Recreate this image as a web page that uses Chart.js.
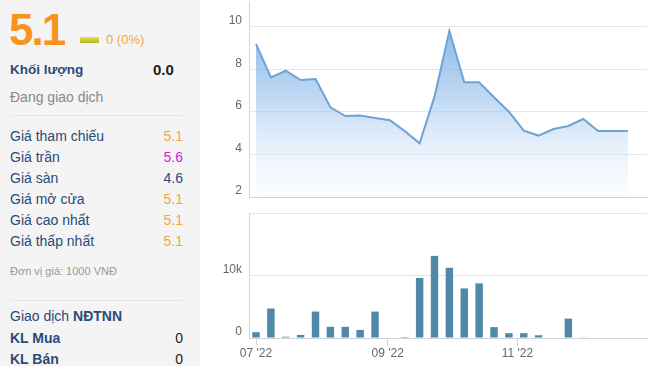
<!DOCTYPE html>
<html>
<head>
<meta charset="utf-8">
<script src="https://cdn.jsdelivr.net/npm/chart.js@4"></script>
<style>
  body { margin:0; width:651px; height:366px; overflow:hidden; background:#fff; font-family:"Liberation Sans", Arial, sans-serif; position:relative; }
  #panel { position:absolute; left:0; top:0; width:200px; height:366px; background:#f4f4f4; }
  .t { position:absolute; white-space:nowrap; line-height:20px; font-size:14px; }
  .lbl { left:10px; color:#2b4a78; }
  .val { right:17px; text-align:right; }
  .sep { position:absolute; left:10px; width:173px; height:1px; background:#e6e6e6; }
  #c1 { position:absolute; left:215px; top:0; }
  #c2 { position:absolute; left:215px; top:205px; }
</style>
</head>
<body>
<div id="panel">
  <div class="t" style="left:9px;top:8px;font-size:44px;line-height:44px;font-weight:bold;color:#f7941d;letter-spacing:-2px">5.1</div>
  <div style="position:absolute;left:80px;top:37px;width:19px;height:6px;background:linear-gradient(#e0e060,#b8b818)"></div>
  <div class="t" style="left:106px;top:30px;font-size:13px;color:#f5a543">0 (0%)</div>
  <div class="t lbl" style="top:60px;font-weight:bold;font-size:13.5px">Khối lượng</div>
  <div class="t" style="left:153px;top:60px;font-weight:bold;font-size:15px;color:#222">0.0</div>
  <div class="t" style="left:10px;top:87px;color:#888">Đang giao dịch</div>
  <div class="sep" style="top:115px"></div>

  <div class="t lbl" style="top:126px">Giá tham chiếu</div>
  <div class="t val" style="top:126px;color:#f5a543">5.1</div>
  <div class="t lbl" style="top:147px">Giá trần</div>
  <div class="t val" style="top:147px;color:#d61fd6">5.6</div>
  <div class="t lbl" style="top:168px">Giá sàn</div>
  <div class="t val" style="top:168px;color:#2b4a78">4.6</div>
  <div class="t lbl" style="top:189px">Giá mở cửa</div>
  <div class="t val" style="top:189px;color:#f5a543">5.1</div>
  <div class="t lbl" style="top:210px">Giá cao nhất</div>
  <div class="t val" style="top:210px;color:#f5a543">5.1</div>
  <div class="t lbl" style="top:231px">Giá thấp nhất</div>
  <div class="t val" style="top:231px;color:#f5a543">5.1</div>

  <div class="t" style="left:10px;top:261px;font-size:11px;color:#999">Đơn vị giá: 1000 VNĐ</div>
  <div class="sep" style="top:300px"></div>
  <div class="t lbl" style="top:306px">Giao dịch <b>NĐTNN</b></div>
  <div class="t lbl" style="top:328px;font-weight:bold">KL Mua</div>
  <div class="t val" style="top:328px;color:#222">0</div>
  <div class="t lbl" style="top:349px;font-weight:bold">KL Bán</div>
  <div class="t val" style="top:349px;color:#222">0</div>
</div>

<canvas id="c1" width="436" height="200"></canvas>
<canvas id="c2" width="436" height="161"></canvas>

<script>
const ngay = ['2022-07-01','2022-07-08','2022-07-15','2022-07-22','2022-07-29','2022-08-05','2022-08-12','2022-08-19','2022-08-26','2022-09-02','2022-09-09','2022-09-16','2022-09-23','2022-09-30','2022-10-07','2022-10-14','2022-10-21','2022-10-28','2022-11-04','2022-11-11','2022-11-18','2022-11-25','2022-12-02','2022-12-09','2022-12-16','2022-12-23'];
const gia = [9.2,7.63,7.94,7.5,7.55,6.22,5.81,5.83,5.72,5.61,5.1,4.53,6.72,9.81,7.4,7.4,6.69,6.01,5.12,4.89,5.2,5.34,5.67,5.1,5.1,5.1];
const khoiLuong = [930,4720,200,490,4230,1790,1790,1300,4230,0,150,9610,13140,11240,7930,8740,1740,770,770,440,0,3100,100,0,0,0];
const ngayNhan = ['2022-07-01','2022-09-01','2022-11-01'];
const nhan = ["07 '22","09 '22","11 '22"];
const giaTicks = [2,4,6,8,10];
const klTicks = [0,10000,20000];

const goc = Date.UTC(2022,6,1);
function soNgay(s) {
  const p = s.split('-');
  return (Date.UTC(+p[0], +p[1]-1, +p[2]) - goc) / 86400000;
}
const xs = ngay.map(soNgay);
const xNhan = ngayNhan.map(soNgay);

const font = { family: '"Liberation Sans", Arial, sans-serif', size: 12 };
const luoi = '#e6e6e6';
const vien = '#d4d4d4';

function khongDem(s) { s.paddingTop = 0; s.paddingBottom = 0; s.paddingLeft = 0; s.paddingRight = 0; }

new Chart(document.getElementById('c1'), {
  type: 'line',
  data: {
    datasets: [{
      data: xs.map((x, i) => ({ x: x, y: gia[i] })),
      borderColor: '#6fa2d6',
      borderWidth: 2,
      pointRadius: 0,
      tension: 0,
      fill: 'start',
      backgroundColor: (ctx) => {
        const a = ctx.chart.chartArea;
        if (!a) return 'rgba(130,180,230,0.5)';
        const g = ctx.chart.ctx.createLinearGradient(0, a.top, 0, a.bottom);
        g.addColorStop(0, 'rgba(110,165,225,0.95)');
        g.addColorStop(0.5, 'rgba(150,192,236,0.6)');
        g.addColorStop(1, 'rgba(230,240,252,0.15)');
        return g;
      }
    }]
  },
  options: {
    responsive: false,
    animation: false,
    layout: { padding: { top: 1, right: 4, bottom: 3, left: 0 } },
    plugins: { legend: { display: false }, tooltip: { enabled: false } },
    scales: {
      x: {
        type: 'linear', min: -3.3, max: 184, offset: false,
        ticks: { display: false },
        grid: { display: false, drawTicks: false },
        border: { color: vien },
        afterFit: (s) => { s.height = 0; khongDem(s); }
      },
      y: {
        min: 2, max: 11.22,
        afterBuildTicks: (s) => { s.ticks = giaTicks.map(v => ({ value: v })); },
        afterFit: (s) => { s.width = 34; khongDem(s); },
        ticks: { color: '#666', font: font, padding: 7, labelOffset: -6 },
        grid: { color: luoi, drawTicks: false },
        border: { color: vien }
      }
    }
  }
});

new Chart(document.getElementById('c2'), {
  type: 'bar',
  data: {
    datasets: [{
      data: xs.map((x, i) => ({ x: x, y: khoiLuong[i] })),
      backgroundColor: '#4f88a8',
      barPercentage: 0.5,
      categoryPercentage: 1
    }]
  },
  options: {
    responsive: false,
    animation: false,
    layout: { padding: { top: 8, right: 4, bottom: 0, left: 0 } },
    plugins: { legend: { display: false }, tooltip: { enabled: false } },
    scales: {
      x: {
        type: 'linear', min: -3.3, max: 184, offset: false,
        afterBuildTicks: (s) => { s.ticks = xNhan.map(v => ({ value: v })); },
        afterFit: (s) => { s.height = 28; khongDem(s); },
        ticks: {
          color: '#666', font: font, padding: 0, maxRotation: 0, autoSkip: false,
          callback: (v) => nhan[xNhan.indexOf(v)]
        },
        grid: { drawOnChartArea: false, tickLength: 8, color: vien, offset: false },
        border: { color: vien }
      },
      y: {
        min: 0, max: 20000,
        afterBuildTicks: (s) => { s.ticks = klTicks.map(v => ({ value: v })); },
        afterFit: (s) => { s.width = 34; khongDem(s); },
        ticks: {
          color: '#666', font: font, padding: 7, labelOffset: -6,
          callback: (v) => v === 0 ? '0' : (v === 10000 ? '10k' : '')
        },
        grid: { color: luoi, drawTicks: false },
        border: { color: vien }
      }
    }
  }
});
</script>
</body>
</html>
